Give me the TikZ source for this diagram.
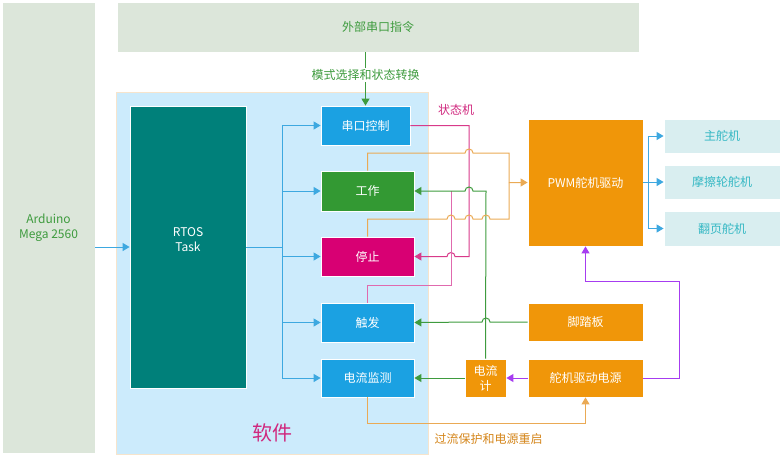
\documentclass[tikz,border=0pt]{standalone}
\usepackage{fontspec}
\setmainfont{Noto Sans CJK SC}
\usetikzlibrary{arrows.meta}
\definecolor{boxblue}{HTML}{1BA1E2}
\definecolor{boxgreen}{HTML}{339933}
\definecolor{boxmag}{HTML}{D80073}
\definecolor{boxorange}{HTML}{F09609}
\definecolor{rtosteal}{HTML}{00807A}
\definecolor{swfill}{HTML}{CCEBFC}
\definecolor{swedge}{HTML}{F6E4CC}
\definecolor{ardfill}{HTML}{DCE6DA}
\definecolor{txtgreen}{HTML}{3E9B3E}
\definecolor{servofill}{HTML}{D9EEF0}
\definecolor{servotext}{HTML}{35B8C4}
\definecolor{lineblue}{HTML}{3DA8E0}
\definecolor{linemag}{HTML}{D83A8A}
\definecolor{linepink}{HTML}{E06AAE}
\definecolor{linegreen}{HTML}{3E9B3E}
\definecolor{lineorange}{HTML}{EAAA55}
\definecolor{linepurple}{HTML}{A63CF0}
\definecolor{txtorange}{HTML}{D4851A}
\definecolor{txtmag}{HTML}{D0287E}

\begin{document}
\begin{tikzpicture}[x=1pt,y=-1pt,
    blk/.style={draw=white,line width=0.8pt,inner sep=0pt,text=white,align=center,
      font=\fontsize{12}{15}\selectfont},
    state/.style={blk,minimum width=93pt,minimum height=39pt},
    servo/.style={blk,fill=servofill,text=servotext,minimum width=116pt,minimum height=34pt},
    link/.style={line width=1pt,-{Triangle[length=7pt,width=8pt]}},
    wire/.style={line width=1pt}]
  \useasboundingbox (0,0) rectangle (782,455);

  \node[fill=swfill,draw=swedge,inner sep=0pt,minimum width=312pt,minimum height=362pt] (sw) at (272,273) {};
  \node[font=\fontsize{20}{22}\selectfont,text=txtmag] (swlabel) at (272,433) {软件};

  \node[blk,fill=ardfill,text=txtgreen,minimum width=93pt,minimum height=451pt] (ard) at (48.5,227.5) {Arduino\\Mega 2560};
  \node[blk,fill=ardfill,text=txtgreen,minimum width=522pt,minimum height=50pt] (ext) at (378,27) {外部串口指令};
  \node[blk,fill=rtosteal,minimum width=116pt,minimum height=282pt] (rtos) at (188,247) {RTOS\\Task\\\mbox{}};

  \node[state,fill=boxblue,minimum width=89pt] (ser) at (365.5,125.5) {串口控制};
  \node[state,fill=boxgreen,minimum height=40pt] (work) at (367.5,191) {工作};
  \node[state,fill=boxmag] (stop) at (367.5,256.5) {停止};
  \node[state,fill=boxblue] (trig) at (367.5,322.5) {触发};
  \node[state,fill=boxblue,minimum height=38pt] (curm) at (367.5,378) {电流监测};

  \node[blk,fill=boxorange,minimum width=115pt,minimum height=127pt] (pwm) at (585.5,182.5) {PWM舵机驱动};
  \node[servo] (main) at (722,136) {主舵机};
  \node[servo] (fric) at (722,182) {摩擦轮舵机};
  \node[servo,minimum height=35pt] (page) at (722,228.5) {翻页舵机};
  \node[blk,fill=boxorange,minimum width=115pt,minimum height=38pt] (pedal) at (585.5,322) {脚踏板};
  \node[blk,fill=boxorange,minimum width=115pt,minimum height=38pt] (pwr) at (585.5,378) {舵机驱动电源};
  \node[blk,fill=boxorange,minimum width=41pt,minimum height=38pt] (meter) at (485.5,378) {电流\\计};

  \node[font=\fontsize{12}{14}\selectfont,text=txtmag] (fsm) at (456,110) {状态机};

  \draw[link,lineblue] (ard.east |- rtos.west) -- (rtos.west);
  \foreach \s in {ser,work,stop,trig,curm}
    \draw[link,lineblue] (rtos.east) -- (282,247) |- (\s.west);
  \foreach \s in {main,fric,page}
    \draw[link,lineblue] (pwm.east) -- ++(5,0) |- (\s.west);

  \draw[link,linegreen] (ext.south -| ser.north) -- node[pos=0.42,fill=white,text=txtgreen,inner sep=1.5pt,
    font=\fontsize{12}{14}\selectfont] (modelabel) {模式选择和状态转换} (ser.north);

  \draw[link,linemag] (ser.east) -- (469,125.5) -- (469,256.5) -- (455,256.5) arc(0:-180:4) -- (stop.east);
  \draw[wire,linepink] (trig.north) |- (451,285) -- (451,191);
  \draw[link,linegreen] (meter.north) -- (486,191) -- (473,191) arc(0:-180:4) -- (work.east);

  \draw[link,lineorange] (work.north) |- (465,153) arc(180:360:4) -- (509,153) -- (509,182.5) -- (pwm.west);
  \draw[wire,lineorange] (stop.north) |- (447,219) arc(180:360:4) -- (465,219) arc(180:360:4)
    -- (482,219) arc(180:360:4) -- (509,219) -- (509,182.5);

  \draw[link,linegreen] (pedal.west) -- (490,322) arc(0:-180:4) -- (trig.east);
  \draw[link,linegreen] (meter.west) -- (curm.east);
  \draw[link,linepurple] (pwr.west) -- (meter.east);
  \draw[link,linepurple] (pwr.east) -| (679,281) -| (pwm.south);
  \draw[link,lineorange] (curm.south) -- ++(0,26) -| (pwr.south);
  \node[anchor=west,text=txtorange,font=\fontsize{12}{14}\selectfont] (protlabel) at (431,439) {过流保护和电源重启};
\end{tikzpicture}
\end{document}
